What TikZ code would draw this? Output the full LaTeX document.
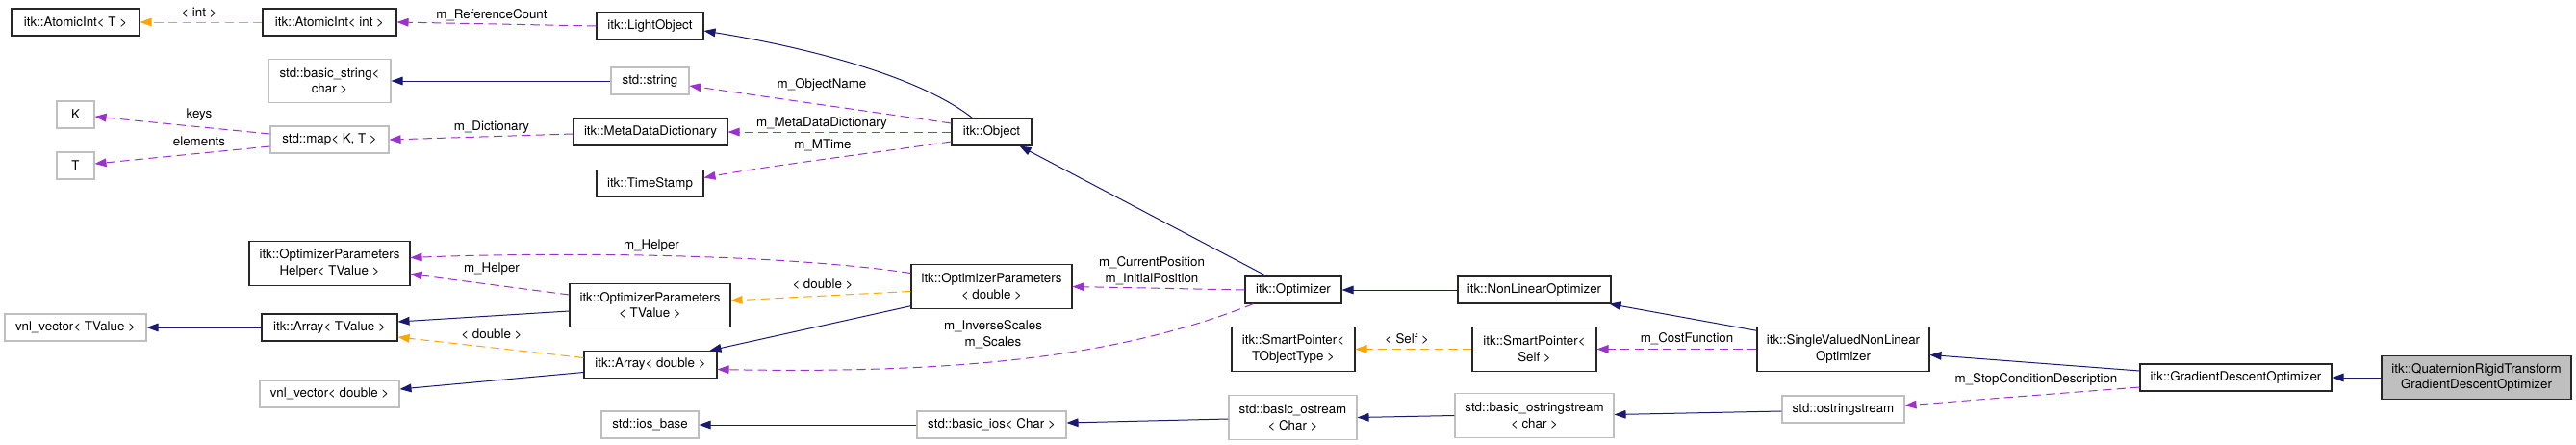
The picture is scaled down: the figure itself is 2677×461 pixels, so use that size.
\documentclass[tikz,border=0pt]{standalone}
\usepackage{fontspec}
\setmainfont{TeX Gyre Heros}
\usetikzlibrary{arrows.meta,calc}
\definecolor{navy}{RGB}{25,25,112}
\definecolor{orchid}{RGB}{154,50,205}
\definecolor{dorange}{RGB}{255,165,0}
\definecolor{lgray}{RGB}{191,191,191}
\begin{document}
\begin{tikzpicture}[x=0.75pt,y=-0.75pt,
  every node/.style={font=\fontsize{10pt}{12.5pt}\selectfont},
  cls/.style={draw=black!85, line width=0.8pt, fill=white, inner sep=0pt,
    minimum height=21pt, align=center, minimum width=#1*0.75pt},
  cls/.default=100,
  two/.style={minimum height=34pt},
  ext/.style={cls=#1, draw=lgray},
  cur/.style={cls=#1, fill=lgray},
  lab/.style={inner sep=0pt, align=center},
  tip/.style={-{Triangle[length=9pt,width=6.5pt]}},
  inh/.style={draw=navy, line width=0.75pt, tip},
  use/.style={draw=orchid, line width=0.75pt, dash pattern=on 7pt off 4pt, tip},
  tpl/.style={draw=dorange, line width=0.75pt, dash pattern=on 7pt off 4pt, tip}]
\fill[white] (0,0) rectangle (2677,461);
\useasboundingbox (0,0) rectangle (2677,461);

% nodes
\node[cls=133] (atT) at (78.5,23) {itk::AtomicInt< T >};
\node[cls=139] (atI) at (342.5,23) {itk::AtomicInt< int >};
\node[ext=127, two] (bstr) at (342.5,84) {std::basic\_string<\\char >};
\node[ext=39] (K) at (78.5,119) {K};
\node[ext=39] (T) at (78.5,172) {T};
\node[ext=123] (map) at (342.5,145) {std::map< K, T >};
\node[cls=167, two] (help) at (342.5,273.5) {itk::OptimizerParameters\\Helper< TValue >};
\node[cls=141] (arrT) at (342.5,340) {itk::Array< TValue >};
\node[ext=147] (vnlT) at (78.5,340) {vnl\_vector< TValue >};
\node[ext=145] (vnld) at (342.5,409) {vnl\_vector< double >};
\node[cls=111] (lobj) at (675.5,27) {itk::LightObject};
\node[ext=81] (str) at (675.5,84) {std::string};
\node[cls=160] (mdd) at (676,137) {itk::MetaDataDictionary};
\node[cls=111] (ts) at (675.5,190.5) {itk::TimeStamp};
\node[cls=167, two] (opT) at (675.5,317) {itk::OptimizerParameters\\< TValue >};
\node[cls=138] (ad) at (676,378.5) {itk::Array< double >};
\node[ext=101] (iosb) at (675.5,441) {std::ios\_base};
\node[cls=83] (obj) at (1030.5,137) {itk::Object};
\node[cls=167, two] (opd) at (1030.5,297.5) {itk::OptimizerParameters\\< double >};
\node[ext=155] (bios) at (1030.5,441) {std::basic\_ios< Char >};
\node[cls=100] (opt) at (1344,301) {itk::Optimizer};
\node[cls=128, two] (spt) at (1344,362.5) {itk::SmartPointer<\\TObjectType >};
\node[ext=133, two] (bos) at (1343.5,433.5) {std::basic\_ostream\\< Char >};
\node[cls=159] (nlo) at (1594.5,301) {itk::NonLinearOptimizer};
\node[cls=129, two] (sps) at (1594.5,362.5) {itk::SmartPointer<\\Self >};
\node[ext=165, two] (boss) at (1594.5,431.5) {std::basic\_ostringstream\\< char >};
\node[cls=179, two] (svnlo) at (1915.5,362.5) {itk::SingleValuedNonLinear\\Optimizer};
\node[ext=127] (oss) at (1915.5,425) {std::ostringstream};
\node[cls=199] (gdo) at (2323.5,392) {itk::GradientDescentOptimizer};
\node[cur=197, two] (q) at (2573.5,392) {itk::QuaternionRigidTransform\\GradientDescentOptimizer};

% edges
\draw[tpl] (atI.west) -- (atT.east);
\draw[use] (lobj.west) -- (atI.east);
\draw[inh] (str.west) -- (bstr.east);
\draw[use] ($(map.west)+(0,-6)$) -- ($(K.east)+(0,2)$);
\draw[use] ($(map.west)+(0,7)$) -- ($(T.east)+(0,-2)$);
\draw[use] ($(mdd.west)+(0,2)$) -- (map.east);
\draw[inh] ($(obj.north)+(-20,0)$) .. controls (950,75) and (820,46) .. ($(lobj.east)+(0,5)$);
\draw[use] ($(obj.west)+(0,-9)$) -- ($(str.east)+(0,5)$);
\draw[use] (obj.west) -- (mdd.east);
\draw[use] ($(obj.west)+(0,10)$) .. controls (900,160) and (800,172) .. ($(ts.east)+(0,-6)$);
\draw[inh] ($(opt.north)+(-28,0)$) -- ($(obj.south)+(29,0)$);
\draw[use] (opt.west) -- (opd.east);
\draw[use] ($(opt.south west)+(9,0)$) .. controls (1160,372) and (990,388) .. ($(ad.east)+(0,5)$);
\draw[inh] (nlo.west) -- (opt.east);
\draw[inh] ($(svnlo.north west)+(0,4)$) -- ($(nlo.south east)+(-2,0)$);
\draw[use] (svnlo.west) -- (sps.east);
\draw[tpl] (sps.west) -- (spt.east);
\draw[inh] ($(gdo.west)+(0,-7)$) -- ($(svnlo.east)+(0,6)$);
\draw[use] ($(gdo.west)+(0,10)$) -- ($(oss.east)+(0,-4)$);
\draw[inh] (q.west) -- (gdo.east);
\draw[inh] ($(oss.west)+(0,2)$) -- ($(boss.east)+(0,-1)$);
\draw[inh] (boss.west) -- (bos.east);
\draw[inh] ($(bos.west)+(0,1.5)$) -- ($(bios.east)+(0,-2)$);
\draw[inh] (bios.west) -- (iosb.east);
\draw[inh] ($(opT.west)+(0,6)$) -- ($(arrT.east)+(0,-6)$);
\draw[use] ($(opT.west)+(0,-11)$) -- ($(help.east)+(0,11)$);
\draw[use] ($(opd.west)+(0,-14)$) .. controls (800,262) and (560,262) .. ($(help.east)+(0,-6)$);
\draw[tpl] ($(opd.west)+(0,5)$) -- ($(opT.east)+(0,-5)$);
\draw[inh] (arrT.west) -- (vnlT.east);
\draw[tpl] ($(ad.west)+(0,-7)$) -- ($(arrT.east)+(0,10)$);
\draw[inh] ($(ad.west)+(0,8)$) -- ($(vnld.east)+(0,-5)$);
\draw[inh] ($(opd.south west)+(0,-3)$) -- ($(ad.north east)+(-8,0)$);

% labels
\node[lab] (l1) at (207,13) {< int >};
\node[lab] (l2) at (511,16) {m\_ReferenceCount};
\node[lab] (l3) at (207,119) {keys};
\node[lab] (l4) at (207,147) {elements};
\node[lab] (l5) at (511,132) {m\_Dictionary};
\node[lab] (l6) at (854,88) {m\_ObjectName};
\node[lab] (l7) at (854,128) {m\_MetaDataDictionary};
\node[lab] (l8) at (855,151) {m\_MTime};
\node[lab] (l9) at (677,255) {m\_Helper};
\node[lab] (l10) at (511,279) {m\_Helper};
\node[lab] (l11) at (855,295) {< double >};
\node[lab] (l12) at (511,347) {< double >};
\node[lab] (l13) at (1197,281.5) {m\_CurrentPosition\\m\_InitialPosition};
\node[lab] (l14) at (1032,347.5) {m\_InverseScales\\m\_Scales};
\node[lab] (l15) at (1462,352) {< Self >};
\node[lab] (l16) at (1753,352) {m\_CostFunction};
\node[lab] (l17) at (2116,394) {m\_StopConditionDescription};
\end{tikzpicture}
\end{document}
